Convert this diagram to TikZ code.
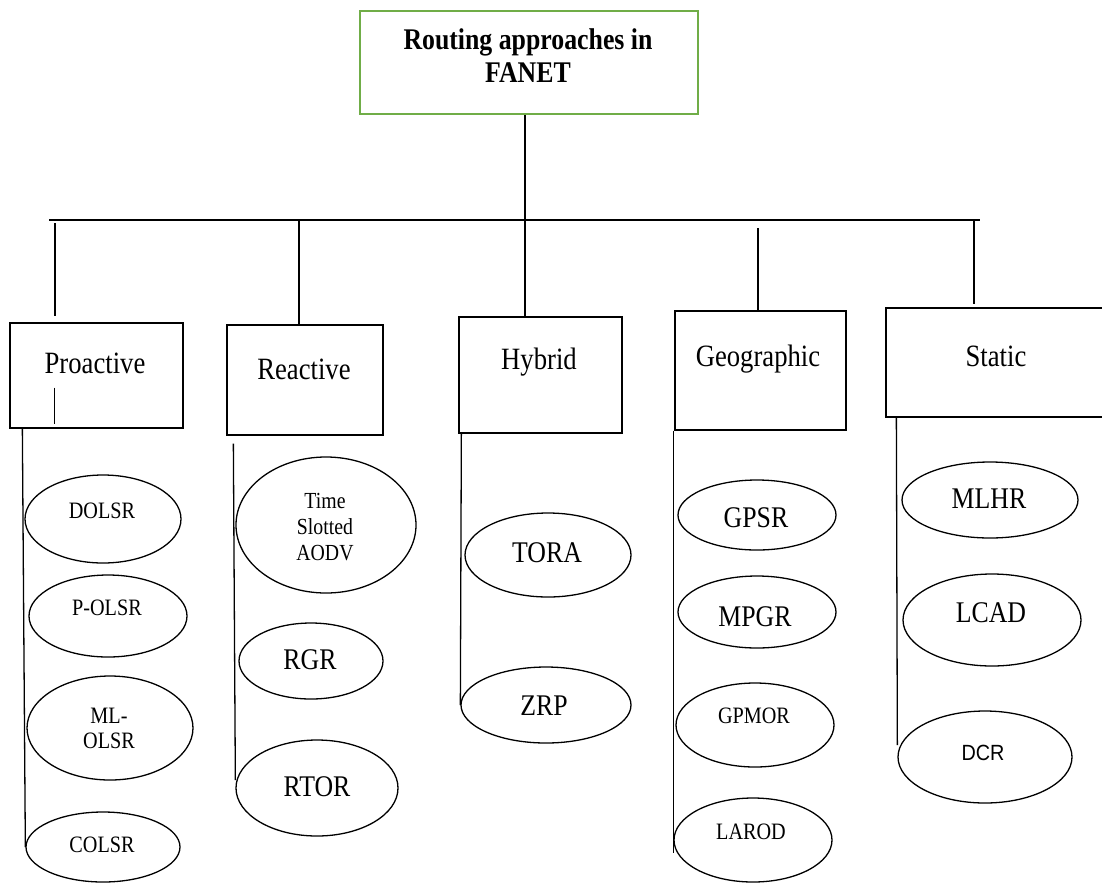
\documentclass[tikz,border=0pt]{standalone}
\usepackage{fontspec}
\newfontfamily\serifc{Liberation Serif}[FakeStretch=0.86]
\newfontfamily\sansc{Liberation Sans}[FakeStretch=0.9]
\usetikzlibrary{shapes.geometric,calc}
\definecolor{boxgreen}{HTML}{70AD47}
\begin{document}
\begin{tikzpicture}[x=1pt,y=-1pt, line width=1.3pt,
  catbox/.style={draw, rectangle, inner sep=0pt},
  ell/.style={draw, ellipse, inner sep=0pt},
  big/.style={font=\serifc\fontsize{30}{33}\selectfont, inner sep=0pt, anchor=base},
  small/.style={font=\serifc\fontsize{23.5}{26}\selectfont, inner sep=0pt, anchor=base},
  smallml/.style={font=\serifc\fontsize{23.5}{25}\selectfont, inner sep=0pt, align=center},
  cat/.style={font=\serifc\fontsize{31}{34}\selectfont, inner sep=0pt, anchor=base},
  ttl/.style={font=\serifc\bfseries\fontsize{30}{33}\selectfont, inner sep=0pt, align=center},
]
\useasboundingbox (0,0) rectangle (1102,884);

% title
\node[draw=boxgreen, line width=1.5pt, rectangle, minimum width=338pt, minimum height=103pt] (title) at (529,62.5) {};
\node[ttl] (titleT) at (528,56) {Routing approaches in\\FANET};

% category boxes
\node[catbox, minimum width=173pt, minimum height=105pt] (pro) at (96.5,375.5) {};
\node[catbox, minimum width=156pt, minimum height=110pt] (rea) at (305,380) {};
\node[catbox, minimum width=163pt, minimum height=116pt] (hyb) at (540.5,375) {};
\node[catbox, minimum width=171pt, minimum height=119pt] (geo) at (760.5,370.5) {};
\node[catbox, minimum width=220pt, minimum height=109pt] (sta) at (996,362.5) {};

\node[cat] (proT) at (95,373) {Proactive};
\node[cat] (reaT) at (304,379) {Reactive};
\node[cat] (hybT) at (539,369) {Hybrid};
\node[cat] (geoT) at (758,366) {Geographic};
\node[cat] (staT) at (996,366) {Static};

% ellipses
\node[ell, minimum width=156pt, minimum height=88pt] (dolsr) at (103,519) {};
\node[ell, minimum width=158pt, minimum height=82pt] (polsr) at (108,616) {};
\node[ell, minimum width=166pt, minimum height=104pt] (mlolsr) at (110,728) {};
\node[ell, minimum width=154pt, minimum height=70pt] (colsr) at (103,847) {};

\node[ell, minimum width=180pt, minimum height=136pt] (tsa) at (326,525) {};
\node[ell, minimum width=144pt, minimum height=76pt] (rgr) at (311,661) {};
\node[ell, minimum width=162pt, minimum height=96pt] (rtor) at (317,788) {};

\node[ell, minimum width=166pt, minimum height=84pt] (tora) at (548,555) {};
\node[ell, minimum width=170pt, minimum height=76pt] (zrp) at (546,705) {};

\node[ell, minimum width=158pt, minimum height=70pt] (gpsr) at (757,515) {};
\node[ell, minimum width=158pt, minimum height=72pt] (mpgr) at (757,612) {};
\node[ell, minimum width=158pt, minimum height=84pt] (gpmor) at (755,725) {};
\node[ell, minimum width=158pt, minimum height=84pt] (larod) at (753,840) {};

\node[ell, minimum width=176pt, minimum height=76pt] (mlhr) at (990,500) {};
\node[ell, minimum width=178pt, minimum height=92pt] (lcad) at (992,620) {};
\node[ell, minimum width=174pt, minimum height=92pt] (dcr) at (985,757) {};

% ellipse texts
\node[small] (dolsrT) at (102,518) {DOLSR};
\node[small] (polsrT) at (107,615) {P-OLSR};
\node[smallml] (mlolsrT) at (109,728) {ML-\\OLSR};
\node[small] (colsrT) at (102,852) {COLSR};
\node[smallml, font=\serifc\fontsize{23}{26}\selectfont] (tsaT) at (325,527.5) {Time\\Slotted\\AODV};
\node[big] (rgrT) at (310,669) {RGR};
\node[big] (rtorT) at (317,796) {RTOR};
\node[big] (toraT) at (547,562) {TORA};
\node[big] (zrpT) at (544,715) {ZRP};
\node[big] (gpsrT) at (756,527) {GPSR};
\node[big] (mpgrT) at (755,626) {MPGR};
\node[small] (gpmorT) at (754,723) {GPMOR};
\node[small] (larodT) at (751,839) {LAROD};
\node[big] (mlhrT) at (989,508) {MLHR};
\node[big] (lcadT) at (991,622) {LCAD};
\node[small, font=\sansc\fontsize{22}{26}\selectfont] (dcrT) at (983,760) {DCR};

% bus and drops
\coordinate (busL) at (49,220);
\coordinate (busR) at (980,220);
\coordinate (bus) at (525,220);
\draw (title.south -| bus) -- (bus);
\draw (busL) -- (busR);
\coordinate (dpro) at (55,223);
\coordinate (drea) at (299,220);
\coordinate (dgeo) at (758,228);
\coordinate (dsta) at (974,220);
\draw (dpro) -- ($(dpro |- pro.north)+(0,-6)$);
\draw (drea) -- (drea |- rea.north);
\draw (bus) -- (bus |- hyb.north);
\draw (dgeo) -- (dgeo |- geo.north);
\draw (dsta) -- ($(dsta |- sta.north)+(0,-3)$);
\draw ($(pro.south west)+(45,-41)$) -- ($(pro.south west)+(45,-5)$);

% side lines
\draw ($(pro.south west)+(13,0)$) -- (colsr.west);
\draw ($(rea.south west)+(7,8)$) -- ($(rtor.west)+(0,-8)$);
\draw ($(hyb.south west)+(3,0)$) -- (zrp.west);
\draw ($(geo.south west)+(-1,0)$) -- ($(larod.west)+(0,13)$);
\draw ($(sta.south west)+(11,0)$) -- ($(dcr.west)+(0,-12)$);
\end{tikzpicture}
\end{document}
